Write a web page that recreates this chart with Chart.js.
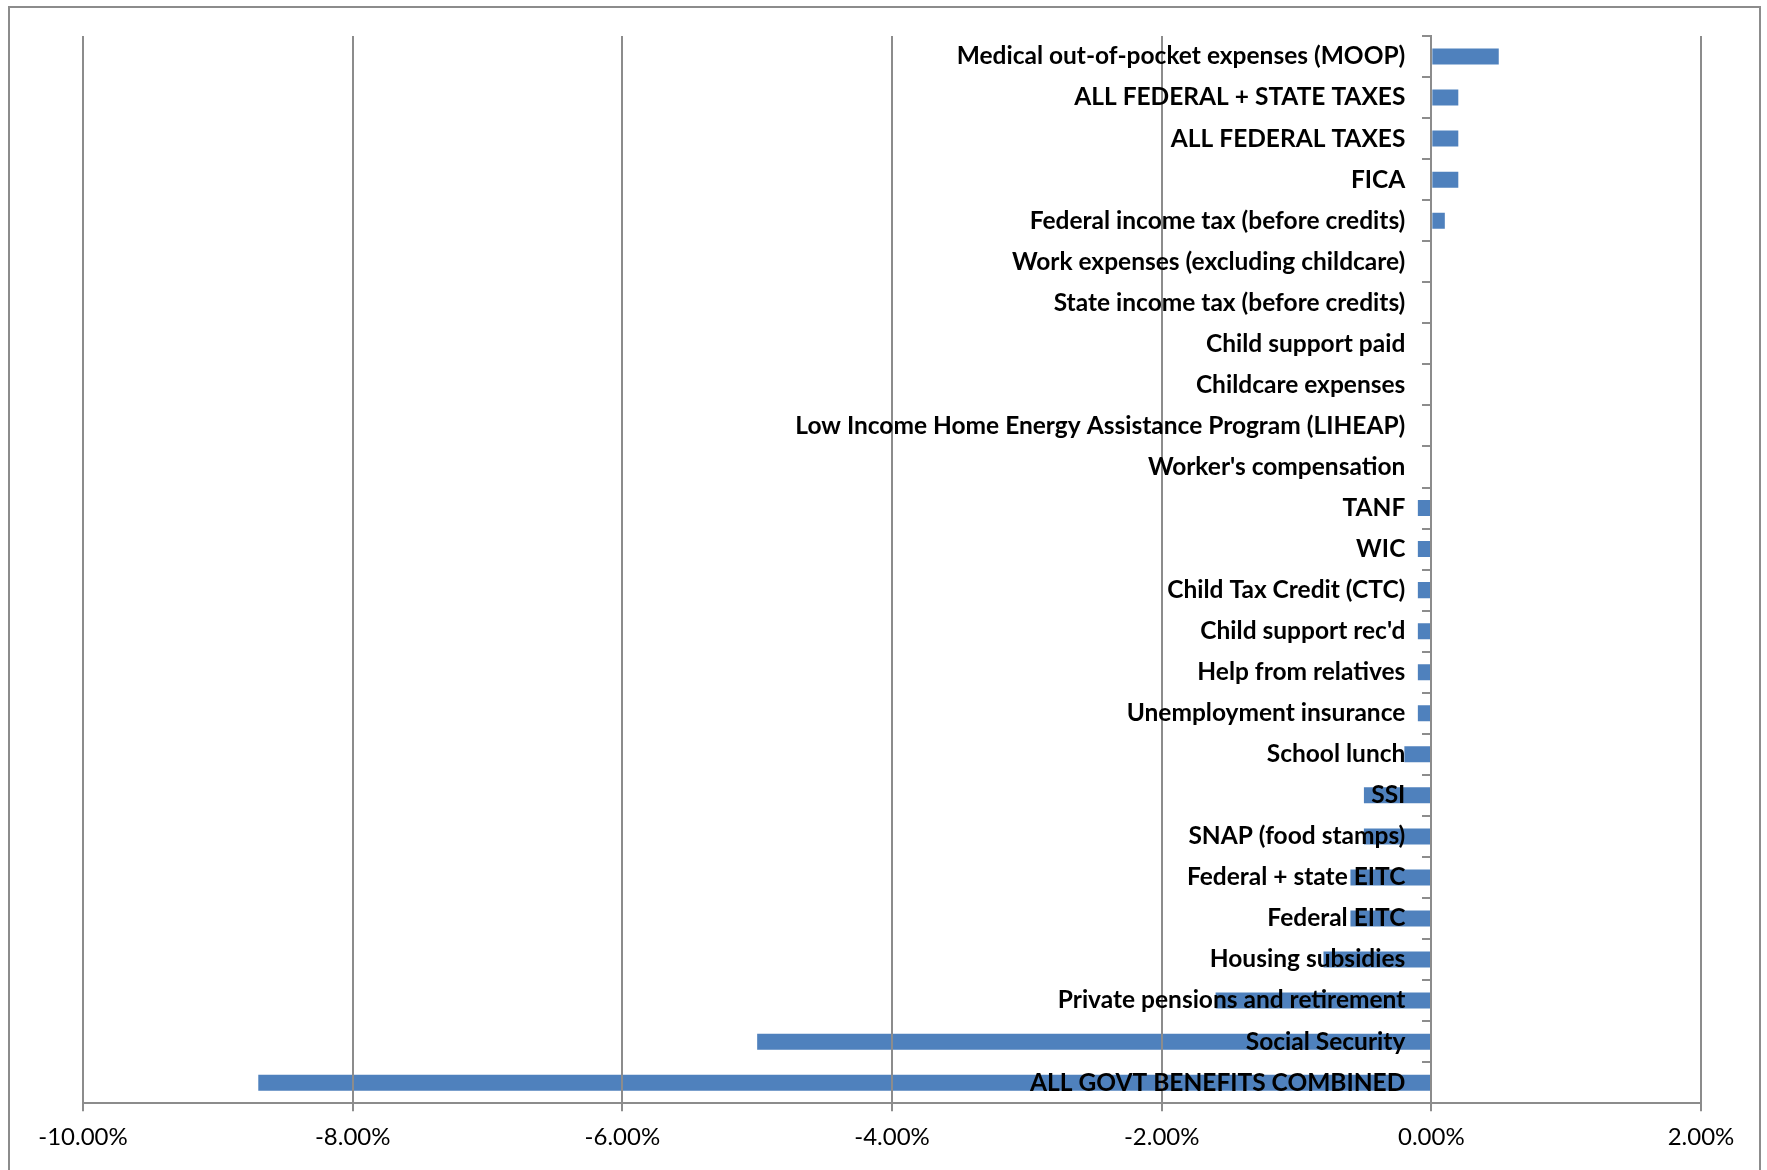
<!DOCTYPE html>
<html>
<head>
<meta charset="utf-8">
<script src="https://cdn.jsdelivr.net/npm/chart.js@4/dist/chart.umd.min.js"></script>
<style>
  html, body { margin: 0; padding: 0; background: #fff; }
  #wrap { position: relative; width: 1767px; height: 1170px; overflow: hidden; }
  #frame { position: absolute; left: 8px; top: 6px; width: 1753px; height: 1200px;
           border: 2px solid #8c8c8c; box-sizing: border-box; pointer-events: none; }
  canvas { position: absolute; left: 0; top: 0; }
</style>
</head>
<body>
<div id="wrap">
  <canvas id="chart" width="1767" height="1170"></canvas>
  <div id="frame"></div>
</div>
<script>
// Change in poverty rate by resource component (percentage points)
const categories = [
  "Medical out-of-pocket expenses (MOOP)",
  "ALL FEDERAL + STATE TAXES",
  "ALL FEDERAL TAXES",
  "FICA",
  "Federal income tax (before credits)",
  "Work expenses (excluding childcare)",
  "State income tax (before credits)",
  "Child support paid",
  "Childcare expenses",
  "Low Income Home Energy Assistance Program (LIHEAP)",
  "Worker's compensation",
  "TANF",
  "WIC",
  "Child Tax Credit (CTC)",
  "Child support rec'd",
  "Help from relatives",
  "Unemployment insurance",
  "School lunch",
  "SSI",
  "SNAP (food stamps)",
  "Federal + state EITC",
  "Federal EITC",
  "Housing subsidies",
  "Private pensions and retirement",
  "Social Security",
  "ALL GOVT BENEFITS COMBINED"
];

const changeValues = [
  0.5, 0.2, 0.2, 0.2, 0.1,
  0, 0, 0, 0, 0, 0,
  -0.1, -0.1, -0.1, -0.1, -0.1, -0.1,
  -0.2, -0.5, -0.5, -0.6, -0.6, -0.8,
  -1.6, -5.0, -8.7
];

const axisMin = -10;
const axisMax = 2;
const axisStep = 2;

const gridColor = '#8c8c8c';
const barColor = '#4f81bd';

// Category axis pinned to x = 0 whose labels sit a fixed gap left of the axis line
const LABEL_GAP = 26;
class PinnedCategoryScale extends Chart.CategoryScale {
  _computeLabelItems(chartArea) {
    const items = super._computeLabelItems(chartArea);
    items.forEach(item => { item.options.translation[0] -= LABEL_GAP; });
    return items;
  }
}
PinnedCategoryScale.id = 'pinnedCategory';
PinnedCategoryScale.defaults = Chart.CategoryScale.defaults;
Chart.register(PinnedCategoryScale);

new Chart(document.getElementById('chart'), {
  type: 'bar',
  data: {
    labels: categories,
    datasets: [{
      data: changeValues,
      backgroundColor: barColor,
      borderWidth: 0,
      barPercentage: 0.39,
      categoryPercentage: 1.0
    }]
  },
  options: {
    indexAxis: 'y',
    responsive: false,
    animation: false,
    layout: { padding: { left: 83, right: 66, top: 36, bottom: 6 } },
    plugins: { legend: { display: false }, tooltip: { enabled: false } },
    scales: {
      x: {
        min: axisMin,
        max: axisMax,
        ticks: {
          z: 1,
          stepSize: axisStep,
          color: '#000',
          padding: 12,
          font: { family: 'Lato', size: 24 },
          callback: v => v.toFixed(2) + '%'
        },
        grid: { z: 1, color: gridColor, lineWidth: 2, tickLength: 8 },
        border: { z: 1, color: gridColor, width: 2 }
      },
      y: {
        type: 'pinnedCategory',
        position: { x: 0 },
        offset: true,
        ticks: {
          z: 2,
          color: '#000',
          autoSkip: false,
          font: { family: 'Lato', size: 24.5, weight: 'bold' }
        },
        grid: { z: 1, offset: true, drawOnChartArea: false, color: gridColor, lineWidth: 2, tickLength: 8 },
        border: { z: 1, color: gridColor, width: 2 }
      }
    }
  }
});
</script>
</body>
</html>
